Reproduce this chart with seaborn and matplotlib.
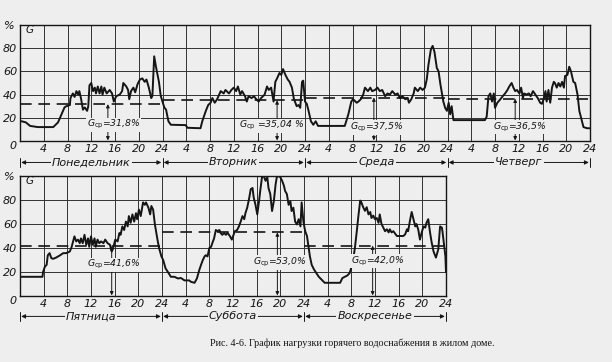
import matplotlib
matplotlib.use('Agg')
import matplotlib.pyplot as plt
import matplotlib.transforms as mtransforms
import seaborn as sns
import numpy as np
import pandas as pd

sns.set_style('white')
plt.rcParams['font.family'] = ['DejaVu Sans']
plt.rcParams['mathtext.fontset'] = 'dejavusans'

# ---------------- data (hour of day, load G in %) ----------------
mon_h = [0, 0.3, 1.0, 1.7, 3, 5.6, 6.4, 7, 7.5, 7.8, 8.4, 8.5, 8.9, 9.2, 9.5, 9.8, 10, 10.3, 10.6, 10.9,
         11.3, 11.5, 11.7, 12, 12.3, 12.6, 12.8, 13.1, 13.4, 13.7, 13.9, 14.2, 14.6, 15.1, 15.5, 15.8, 16.2,
         16.8, 17.2, 17.4, 17.9, 18.2, 18.4, 18.7, 19.1, 19.4, 19.8, 20.2, 20.6, 21, 21.3, 21.7, 22.1, 22.3,
         22.6, 22.9, 23.4, 23.7, 24]
mon_v = [17, 17, 16, 13, 12, 12, 16, 23, 29, 30, 31, 37, 41, 38, 43, 40, 43, 36, 27, 29,
         26, 30, 48, 50, 43, 46, 41, 47, 41, 47, 40, 46, 41, 44, 41, 34, 38.6,
         40, 43, 50, 47, 44, 36, 43, 46, 42, 49, 53, 54, 51, 53, 46, 37, 39,
         73, 64, 51, 39, 34]

tue_h = [0.3, 0.6, 1, 1.4, 3.9, 4.2, 6.4, 6.7, 7.3, 7.7, 8.1, 8.4, 8.8, 9.2, 9.8, 10.3, 10.6, 11.2, 11.6, 12,
         12.4, 12.7, 13.1, 13.4, 13.9, 14.2, 14.5, 15, 15.4, 15.8, 16.2, 16.6, 17.2, 17.6, 17.9, 18.3, 18.7,
         19, 19.3, 19.7, 20, 20.3, 20.7, 21.1, 21.4, 21.8, 22.1, 22.3, 22.6, 22.9, 23.2, 23.5, 23.7, 24]
tue_v = [29, 27, 17, 14, 13.7, 11.4, 11, 17, 26, 31, 33, 37, 33, 36, 43, 41, 44, 41, 44, 46,
         43, 47, 40, 43, 38.6, 34, 38.6, 37, 38.6, 36, 34, 37, 40, 47, 44, 46, 34,
         51, 54, 58.6, 57, 62, 57, 53, 51, 46, 37, 34, 30, 31, 28.6, 51, 52, 34]

wed_h = [0.3, 0.6, 1, 1.4, 1.8, 2.2, 6.7, 7.3, 7.8, 8.1, 8.7, 9, 9.4, 9.8, 10.1, 10.6, 11, 11.3, 11.8, 12.2,
         12.6, 13, 13.5, 13.9, 14.3, 14.7, 15.2, 15.6, 16, 16.4, 16.9, 17.3, 17.5, 17.9, 18.3, 18.5, 19,
         19.4, 19.8, 20.2, 20.5, 20.8, 21.2, 21.5, 21.8, 22.2, 22.5, 22.8, 23, 23.3, 23.6, 23.9]
wed_v = [32, 26, 17, 14, 17, 13, 13, 23, 34, 36, 33, 34, 36, 40, 46, 43, 46, 43, 44, 46,
         43, 44, 38.6, 41, 40, 43, 40, 41, 37, 38.6, 36, 37, 33, 36, 41, 46, 43,
         46, 44, 46, 53, 66, 79, 82, 77, 63, 60, 49, 43, 34, 28.6, 26]

thu_h = [0.2, 0.45, 0.7, 1, 1.6, 6.3, 6.6, 6.9, 7.2, 7.5, 7.8, 8, 8.4, 8.9, 9.3, 9.7, 10.1, 10.4, 10.8, 11.1,
         11.4, 11.7, 12.1, 12.4, 12.7, 12.9, 13.3, 13.7, 14, 14.4, 14.8, 15.2, 15.6, 15.9, 16.2, 16.5, 16.7,
         17, 17.3, 17.6, 17.9, 18.1, 18.4, 18.7, 19, 19.3, 19.6, 19.8, 20.2, 20.5, 20.8, 21.2, 21.5, 21.9,
         22.2, 22.5, 22.9, 23.5, 24]
thu_v = [33, 23, 30, 18, 18, 18, 21, 38.6, 41, 34, 41, 28.6, 33, 36, 38.6, 41, 44, 47, 50, 46,
         43, 44, 41, 46, 37, 41, 40, 41, 38.6, 43, 40, 37, 33, 32, 36, 43, 34,
         44, 33, 46, 51, 50, 46, 50, 47, 51, 46, 56, 57, 64, 60, 51, 50, 40,
         26, 20, 12, 11, 11]

fri_h = [0, 3.8, 3.9, 4.2, 4.5, 4.7, 5, 5.3, 5.6, 6.1, 6.7, 7.3, 7.8, 8.4, 8.7, 8.9, 9.2, 9.5, 9.8, 10.1,
         10.3, 10.6, 10.9, 11.2, 11.5, 11.7, 12, 12.3, 12.6, 12.8, 13.1, 13.4, 13.7, 14.1, 14.4, 14.8, 15.2,
         15.5, 15.8, 16.1, 16.5, 16.8, 17, 17.3, 17.6, 17.9, 18.2, 18.4, 18.7, 19, 19.3, 19.6, 19.8, 20.1,
         20.4, 20.8, 21.1, 21.3, 21.7, 22, 22.2, 22.5, 22.8, 23.2, 23.5, 23.9]
fri_v = [16, 16, 20, 24.4, 26, 34, 35.7, 31.5, 31, 32, 33.7, 35.7, 35.7, 37, 40.4, 44, 49.7, 45.5, 47, 44,
         48, 44, 51, 42.7, 48, 41, 49.7, 42.7, 48, 41, 47, 44, 45.5, 44, 47, 44, 42.7,
         37, 41, 47, 45.5, 52.5, 51, 58, 55, 62, 58, 66.6, 61, 68, 62, 69, 64, 72,
         66.6, 78, 76, 78, 73.6, 68, 75, 72, 59.6, 48, 40, 33]

sat_h = [0.2, 0.6, 1, 1.5, 2.1, 2.7, 3.2, 3.8, 4.6, 4.9, 5.5, 5.9, 6.3, 6.6, 6.9, 7.2, 7.4, 7.7, 8, 8.3,
         8.5, 8.8, 9.1, 9.4, 9.7, 9.9, 10.2, 10.5, 10.8, 11.1, 11.5, 11.8, 12.1, 12.3, 12.7, 13, 13.3, 13.6,
         13.9, 14.1, 14.4, 14.7, 15, 15.3, 15.5, 15.8, 16.1, 16.4, 16.6, 16.9, 17.2, 17.5, 17.8, 18, 18.3,
         18.6, 18.9, 19.2, 19.4, 19.7, 20, 20.3, 20.6, 20.8, 21.1, 21.4, 21.7, 21.9, 22.2, 22.5, 22.8, 23.1,
         23.4, 23.6, 23.9]
sat_v = [30, 23, 20, 16, 16, 14.6, 15, 13, 13, 11.8, 11, 14.6, 21.6, 26, 30, 33, 34, 33, 40, 41,
         44, 48, 55, 54, 55, 52.5, 51, 52.5, 51, 52.5, 49.7, 47, 51, 54, 55, 58, 62, 66.6,
         64, 69, 73.6, 80.6, 89, 90, 82, 76, 68, 79, 87.6, 99, 100, 96, 99, 90, 85,
         70.8, 79, 93, 99, 100, 99, 96, 92, 87.6, 85, 76, 79, 70.8, 73.6, 62, 59.6, 64,
         58, 78, 62]

sun_h = [0.2, 0.5, 0.7, 1, 1.3, 1.7, 2.1, 2.5, 3, 3.5, 6.1, 6.5, 6.9, 7.3, 7.7, 7.9, 8.3, 8.6, 8.9, 9.2,
         9.5, 9.7, 10, 10.3, 10.6, 10.9, 11.2, 11.4, 11.7, 12, 12.3, 12.6, 12.8, 13.1, 13.4, 13.7, 14, 14.3,
         14.5, 14.8, 15.1, 15.7, 16.8, 17.1, 17.4, 17.6, 17.9, 18.2, 18.5, 18.8, 19, 19.3, 19.6, 19.9, 20.2,
         20.5, 20.7, 21, 21.3, 21.6, 21.9, 22.3, 22.7, 23, 23.3, 23.4, 23.7, 23.9, 24]
sun_v = [54, 50, 43, 33, 26, 22, 19, 16, 13.5, 11, 11, 15, 16, 17, 19, 22, 30, 40, 53, 67,
         79.5, 78, 74, 71, 74, 68, 70, 65, 67, 64, 65, 61, 68, 60, 57, 54, 55.6, 53,
         55.6, 53, 54, 50, 50, 51.4, 55.6, 54, 62.6, 70, 64, 58, 60, 55.6, 47, 53, 58,
         57, 61, 64, 53, 44, 37, 32, 39, 58, 57, 54, 41.6, 33, 20]

days_top = ['Понедельник', 'Вторник', 'Среда', 'Четверг']
days_bot = ['Пятница', 'Суббота', 'Воскресенье']
mean_top = [31.8, 35.04, 37.5, 36.5]
mean_bot = [41.6, 53.0, 42.0]
mean_txt_top = ['=31,8%', ' =35,04 %', '=37,5%', '=36,5%']
mean_txt_bot = ['=41,6%', '=53,0%', '=42,0%']
y_ticks = [0, 20, 40, 60, 80]

# layout of the G_ср callouts (hour of arrow, hour of text centre, height of text)
call_top = [(14.8, 15.7, 14), (19.3, 18.3, 13), (11.6, 12.0, 11.5), (11.4, 12.2, 12)]
call_bot = [(15.5, 15.8, 26), (19.5, 19.9, 28), (11.6, 12.4, 29)]

top_series = [(mon_h, mon_v), (tue_h, tue_v), (wed_h, wed_v), (thu_h, thu_v)]
bot_series = [(fri_h, fri_v), (sat_h, sat_v), (sun_h, sun_v)]


def build(series):
    rows = []
    for d, (hs, vs) in enumerate(series):
        assert len(hs) == len(vs)
        for h, v in zip(hs, vs):
            rows.append((24 * d + h, v))
    return pd.DataFrame(rows, columns=['t', 'G'])


df_top = build(top_series)
df_bot = build(bot_series)

BG = '#eeeeee'
INK = '#151515'

fig = plt.figure(figsize=(6.12, 3.62), dpi=100, facecolor=BG)
W, H = 612.0, 362.0
ax1 = fig.add_axes([20 / W, 1 - 141 / H, 570 / W, 116 / H])
ax2 = fig.add_axes([20 / W, 1 - 296 / H, 426 / W, 120 / H])


def style_axes(ax, ndays, df, means, days, mean_txt, calls, day_y):
    ax.set_facecolor(BG)
    sns.lineplot(data=df, x='t', y='G', ax=ax, color=INK, lw=1.4, sort=False,
                 estimator=None, zorder=4)
    ax.set_xlim(0, 24 * ndays)
    ax.set_ylim(0, 100)
    xt = np.arange(0, 24 * ndays + 1, 4)
    ax.set_xticks(xt)
    ax.set_xticklabels(['' if t == 0 else str(int((t - 1) % 24 + 1)) for t in xt])
    ax.set_yticks(y_ticks)
    ax.set_yticklabels(['' if y == 0 else str(y) for y in y_ticks])
    ax.tick_params(length=0, labelsize=8, pad=2, colors=INK)
    for lb in ax.get_xticklabels() + ax.get_yticklabels():
        lb.set_style('italic')
    ax.set_xlabel('')
    ax.set_ylabel('')
    ax.grid(True, color='#333333', lw=0.7)
    for s in ax.spines.values():
        s.set_color(INK)
        s.set_linewidth(1.0)
    # corner labels
    ax.text(-0.6, 0, '0', ha='right', va='top', style='italic', fontsize=8,
            color=INK, transform=ax.transData, clip_on=False)
    ax.text(-0.9, 99, '%', ha='right', va='center', style='italic', fontsize=8,
            color=INK, clip_on=False)
    ax.text(1.0, 96, 'G', ha='left', va='center', style='italic', fontsize=7.5,
            color=INK, zorder=6)
    # mean lines and callouts
    for d, m in enumerate(means):
        ax.plot([24 * d, 24 * d + 24], [m, m], color=INK, lw=1.2,
                dashes=(7, 4), zorder=3)
        xa, xt_, yt = calls[d]
        xa += 24 * d
        xt_ += 24 * d
        ax.annotate('', xy=(xa, m), xytext=(xa, yt + 5),
                    arrowprops=dict(arrowstyle='-|>', color=INK, lw=0.7,
                                    mutation_scale=5, shrinkA=0, shrinkB=0), zorder=5)
        ax.annotate('', xy=(xa, 0.5), xytext=(xa, yt - 6),
                    arrowprops=dict(arrowstyle='-|>', color=INK, lw=0.7,
                                    mutation_scale=5, shrinkA=0, shrinkB=0), zorder=5)
        ax.text(xt_, yt, r'$G_{\mathrm{ср}}$' + mean_txt[d], ha='center', va='center',
                style='italic', fontsize=6.7, color=INK, zorder=7,
                bbox=dict(fc=BG, ec='none', pad=0.5))
    # day labels with arrows
    trans = mtransforms.blended_transform_factory(ax.transData, ax.transAxes)
    for d, name in enumerate(days):
        ax.annotate('', xy=(24 * d + 0.2, day_y), xytext=(24 * d + 12, day_y),
                    xycoords=trans, textcoords=trans,
                    arrowprops=dict(arrowstyle='-|>', color=INK, lw=0.7,
                                    mutation_scale=6, shrinkA=0, shrinkB=0),
                    annotation_clip=False)
        ax.annotate('', xy=(24 * d + 23.8, day_y), xytext=(24 * d + 12, day_y),
                    xycoords=trans, textcoords=trans,
                    arrowprops=dict(arrowstyle='-|>', color=INK, lw=0.7,
                                    mutation_scale=6, shrinkA=0, shrinkB=0),
                    annotation_clip=False)
        ax.text(24 * d + 12, day_y, name, ha='center', va='center', style='italic',
                fontsize=8, color=INK, transform=trans, zorder=8, clip_on=False,
                bbox=dict(fc=BG, ec='none', pad=0.8))
    for d in range(ndays + 1):
        ax.plot([24 * d, 24 * d], [day_y - 0.035, day_y + 0.035], color=INK, lw=0.7,
                transform=trans, clip_on=False)


style_axes(ax1, 4, df_top, mean_top, days_top, mean_txt_top, call_top, -0.185)
style_axes(ax2, 3, df_bot, mean_bot, days_bot, mean_txt_bot, call_bot, -0.17)

fig.text(352 / W, 1 - 343 / H,
         'Рис. 4-6. График нагрузки горячего водоснабжения в жилом доме.',
         ha='center', va='center', fontsize=7.3, family='Liberation Serif', color=INK)

fig.savefig('out.png', dpi=100, facecolor=BG)
